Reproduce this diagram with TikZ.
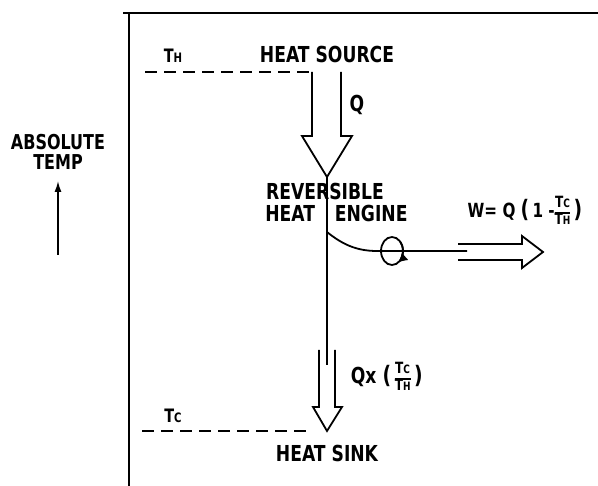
\documentclass[tikz,border=0pt]{standalone}
\usepackage{fontspec}
\setmainfont{DejaVu Sans}[FakeStretch=0.78]
\usetikzlibrary{arrows.meta}
\newcommand\sml[1]{{\fontsize{13}{13}\selectfont #1}}
\newcommand\smf[1]{{\fontsize{11.5}{11.5}\selectfont #1}}
\newcommand\bigparen[1]{{\fontsize{24}{24}\selectfont #1}}
\newcommand\ratio[2]{$\vcenter{\hbox{\fontsize{15.5}{15.5}\bfseries\selectfont\setlength\arrayrulewidth{1.5pt}\setlength\tabcolsep{0pt}\renewcommand\arraystretch{1.0}\begin{tabular}{c}#1\\\hline #2\end{tabular}}}$}
\begin{document}
\begin{tikzpicture}[x=1pt,y=-1pt,line width=1.8pt,line join=miter,
  lab/.style={font=\fontsize{22}{24}\selectfont\bfseries,inner sep=0pt,anchor=base},
  tlab/.style={font=\fontsize{18.5}{20}\selectfont\bfseries,inner sep=0pt,anchor=base},
  dashln/.style={dash pattern=on 12pt off 7pt},
  hollow/.style={line width=1.8pt}]
\useasboundingbox (0,0) rectangle (598,486);
% frame
\coordinate (ftl) at (129,13);
\draw (123,13) -- (598,13);
\draw (ftl) -- (129,486);
% labels
\node[tlab] (th) at (173,63) {T\sml{H}};
\node[lab] (src) at (327,63) {HEAT SOURCE};
\node[lab] (q) at (357,112) {Q};
\node[lab] (rev) at (325,200) {REVERSIBLE};
\node[lab,anchor=base east] (heat) at (316,222) {HEAT};
\node[lab,anchor=base west] (eng) at (334,222) {ENGINE};
\node[tlab,font=\fontsize{19.5}{21}\selectfont\bfseries] (w) at (525,218) {W= Q \bigparen(\,1 -\ratio{T\smf{C}}{T\smf{H}}\,\bigparen)};
\node[lab,anchor=base west] (qx) at (350,384) {Qx \bigparen(\,\ratio{T\smf{C}}{T\smf{H}}\,\bigparen)};
\node[tlab] (tc) at (173,423) {T\sml{C}};
\node[lab] (sink) at (327,462) {HEAT SINK};
\node[lab,font=\fontsize{20.5}{22}\selectfont\bfseries] (abs) at (58,150) {ABSOLUTE};
\node[lab,font=\fontsize{20.5}{22}\selectfont\bfseries] (temp) at (58,170) {TEMP};
% temperature arrow
\coordinate (tbot) at (58,255);
\coordinate (ttop) at (58,181);
\draw[line width=1.5pt,-{Latex[length=11pt,width=7pt]}] (tbot) -- (ttop);
% dashed temperature levels
\coordinate (thL) at (145,72);
\coordinate (thR) at (312,72);
\coordinate (tcL) at (142,431);
\coordinate (tcR) at (312,431);
\draw[dashln] (thL) -- (thR);
\draw[dashln] (tcL) -- (tcR);
% heat input arrow Q
\coordinate (etop) at (327,177);
\draw[hollow] (thR) -- (312,136) -- (302,136) -- (etop) -- (352,136) -- (341,136) -- (341,72);
% engine line
\coordinate (ebot) at (327,365);
\draw (etop) -- (ebot);
% shaft
\coordinate (sh0) at (327,232);
\coordinate (sh1) at (467,251);
\draw (sh0) .. controls (342,244) and (356,251) .. (377,251) -- (sh1);
\coordinate (loopc) at (392,251);
\draw[line width=1.8pt] (loopc) ellipse [x radius=11, y radius=14];
\draw[line width=1.8pt,-{Latex[length=9pt,width=10pt]}] ([shift={(-40:11 and 14)}]loopc) arc [start angle=-40, end angle=55, x radius=11, y radius=14];
% work output arrow
\coordinate (wtip) at (543,252);
\draw[hollow] (458,244) -- (522,244) -- (522,236) -- (wtip) -- (522,268) -- (522,260) -- (458,260);
% heat rejected arrow
\coordinate (ktip) at (327,431);
\draw[hollow] (319,350) -- (319,407) -- (313,407) -- (ktip) -- (342,407) -- (335,407) -- (335,350);
\end{tikzpicture}
\end{document}
